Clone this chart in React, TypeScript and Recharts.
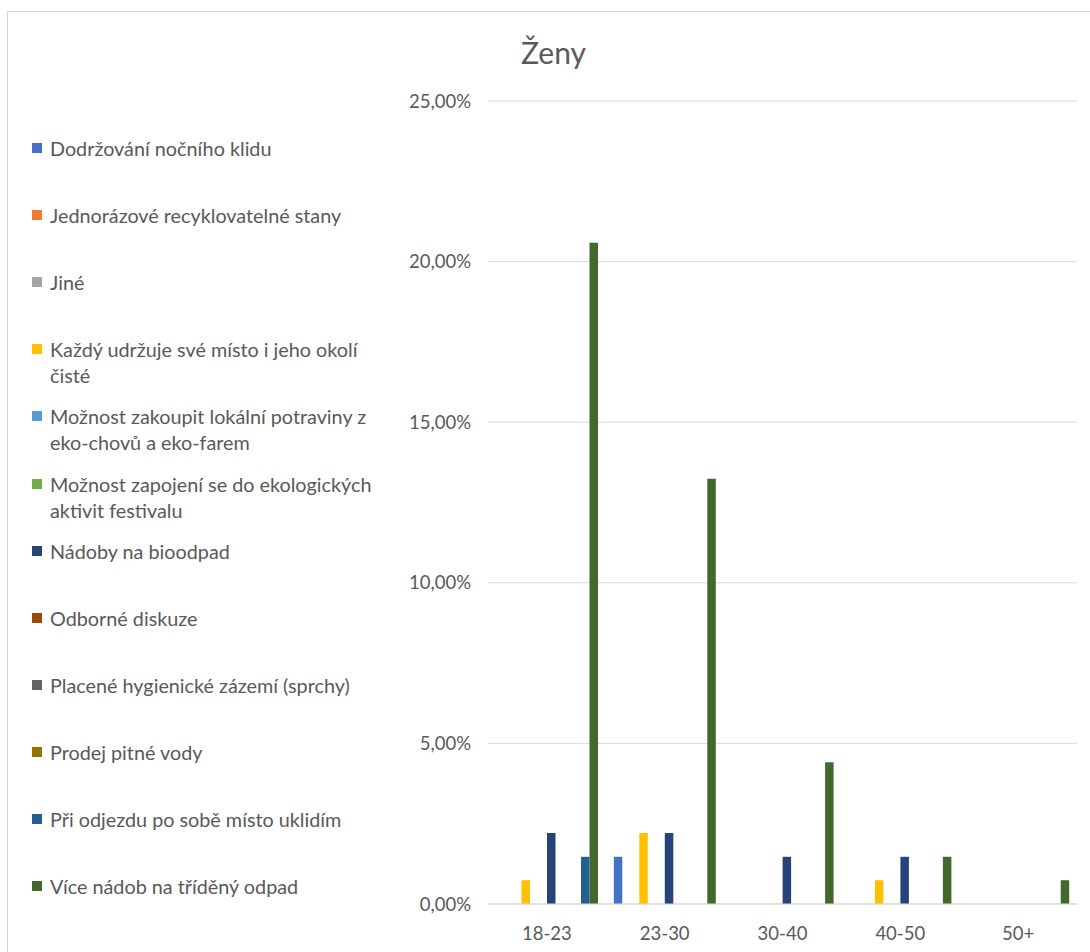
import { BarChart, Bar, XAxis, YAxis, CartesianGrid, Legend } from "recharts";

// age groups on the x axis
const categories = ["18-23", "23-30", "30-40", "40-50", "50+"];

// share of answers (%) per age group, one array per answer
const dodrzovani = [0, 1.47, 0, 0, 0];
const jednorazove = [0, 0, 0, 0, 0];
const jine = [0, 0, 0, 0, 0];
const kazdy = [0.74, 2.21, 0, 0.74, 0];
const zakoupit = [0, 0, 0, 0, 0];
const zapojeni = [0, 0, 0, 0, 0];
const bioodpad = [2.21, 2.21, 1.47, 1.47, 0];
const diskuze = [0, 0, 0, 0, 0];
const hygiena = [0, 0, 0, 0, 0];
const voda = [0, 0, 0, 0, 0];
const uklid = [1.47, 0, 0, 0, 0];
const tridenyOdpad = [20.59, 13.24, 4.41, 1.47, 0.74];

const yTicks = [0, 5, 10, 15, 20, 25];

const series = [
  { key: "s1", name: "Dodržování nočního klidu", values: dodrzovani, color: "#4472C4" },
  { key: "s2", name: "Jednorázové recyklovatelné stany", values: jednorazove, color: "#ED7D31" },
  { key: "s3", name: "Jiné", values: jine, color: "#A5A5A5" },
  { key: "s4", name: "Každý udržuje své místo i jeho okolí\nčisté", values: kazdy, color: "#FFC000" },
  { key: "s5", name: "Možnost zakoupit lokální potraviny z\neko-chovů a eko-farem", values: zakoupit, color: "#5B9BD5" },
  { key: "s6", name: "Možnost zapojení se do ekologických\naktivit festivalu", values: zapojeni, color: "#70AD47" },
  { key: "s7", name: "Nádoby na bioodpad", values: bioodpad, color: "#264478" },
  { key: "s8", name: "Odborné diskuze", values: diskuze, color: "#9E480E" },
  { key: "s9", name: "Placené hygienické zázemí (sprchy)", values: hygiena, color: "#636363" },
  { key: "s10", name: "Prodej pitné vody", values: voda, color: "#997300" },
  { key: "s11", name: "Při odjezdu po sobě místo uklidím", values: uklid, color: "#255E91" },
  { key: "s12", name: "Více nádob na tříděný odpad", values: tridenyOdpad, color: "#43682B" },
];

const data = categories.map((cat, i) => {
  const row: Record<string, string | number> = { category: cat };
  series.forEach((s) => {
    row[s.key] = s.values[i];
  });
  return row;
});

const TEXT = "#595959";
const GRID = "#D9D9D9";

function SideLegend() {
  return (
    <div style={{ position: "relative", width: 400, height: 952 }}>
      {series.map((s, i) => (
        <div
          key={s.key}
          style={{
            position: "absolute",
            left: 32,
            top: 135 + i * 67.1,
            display: "flex",
            alignItems: "flex-start",
          }}
        >
          <span
            style={{
              width: 10,
              height: 10,
              marginTop: 8,
              background: s.color,
              flex: "none",
            }}
          />
          <span
            style={{
              marginLeft: 8,
              whiteSpace: "pre",
              fontSize: 19.8,
              lineHeight: "26px",
              color: TEXT,
            }}
          >
            {s.name}
          </span>
        </div>
      ))}
    </div>
  );
}

export default function App() {
  return (
    <div
      style={{
        position: "absolute",
        left: 0,
        top: 0,
        width: 1090,
        height: 952,
        overflow: "hidden",
        background: "#fff",
        fontFamily: "Lato, sans-serif",
      }}
    >
      <div
        style={{
          position: "absolute",
          left: 7,
          top: 11,
          width: 1100,
          height: 1000,
          border: "1px solid #D6D6D6",
        }}
      />
      <div
        style={{
          position: "absolute",
          left: 521,
          top: 37,
          fontSize: 30,
          lineHeight: "30px",
          color: TEXT,
        }}
      >
        Ženy
      </div>
      <div style={{ position: "absolute", left: 0, top: 0 }}>
        <BarChart
          width={1090}
          height={952}
          data={data}
          margin={{ top: 101, right: 13, bottom: 18, left: 408 }}
          barGap={0}
          barSize={8.5}
        >
          <CartesianGrid vertical={false} stroke={GRID} />
          <XAxis
            dataKey="category"
            stroke={GRID}
            tickLine={false}
            tickSize={0}
            tickMargin={23}
            tick={{ fill: TEXT, fontSize: 18.5 }}
          />
          <YAxis
            width={80}
            domain={[0, 25]}
            ticks={yTicks}
            axisLine={false}
            tickLine={false}
            tickSize={0}
            tickMargin={17}
            tick={{ fill: TEXT, fontSize: 18.5 }}
            tickFormatter={(v) => `${Number(v).toFixed(2).replace(".", ",")}%`}
          />
          <Legend
            layout="horizontal"
            align="center"
            verticalAlign="middle"
            wrapperStyle={{ left: 0, top: 0, width: 400, height: 952 }}
            content={() => <SideLegend />}
          />
          {series.map((s) => (
            <Bar
              key={s.key}
              dataKey={s.key}
              name={s.name}
              fill={s.color}
              isAnimationActive={false}
            />
          ))}
        </BarChart>
      </div>
    </div>
  );
}
